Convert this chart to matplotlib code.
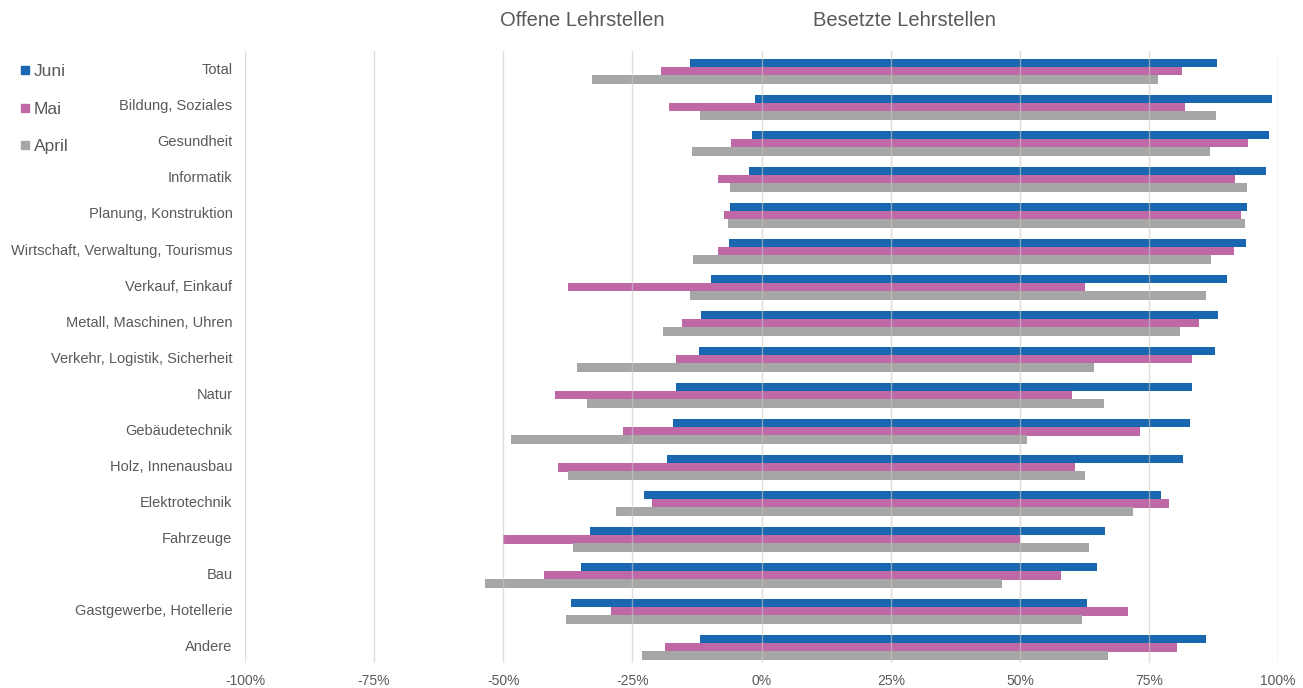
import matplotlib.pyplot as plt
from matplotlib.lines import Line2D
import numpy as np

categories = ["Total", "Bildung, Soziales", "Gesundheit", "Informatik",
              "Planung, Konstruktion", "Wirtschaft, Verwaltung, Tourismus",
              "Verkauf, Einkauf", "Metall, Maschinen, Uhren",
              "Verkehr, Logistik, Sicherheit", "Natur", "Gebäudetechnik",
              "Holz, Innenausbau", "Elektrotechnik", "Fahrzeuge", "Bau",
              "Gastgewerbe, Hotellerie", "Andere"]

# offene Lehrstellen (negativ)
juni_offen = [-13.8, -1.3, -1.9, -2.4, -6.2, -6.4, -9.8, -11.8, -12.2,
              -16.6, -17.1, -18.4, -22.8, -33.3, -34.9, -36.9, -11.9]
mai_offen = [-19.4, -17.9, -6.0, -8.4, -7.3, -8.5, -37.5, -15.4, -16.5,
             -40.0, -26.9, -39.5, -21.3, -50.0, -42.1, -29.2, -18.7]
april_offen = [-32.9, -12.0, -13.4, -6.2, -6.6, -13.2, -13.9, -19.0, -35.7,
               -33.8, -48.6, -37.5, -28.2, -36.6, -53.6, -37.8, -23.1]

# besetzte Lehrstellen (positiv)
juni_besetzt = [88.2, 98.7, 98.2, 97.6, 93.9, 93.7, 90.1, 88.3, 87.8,
                83.3, 83.0, 81.5, 77.3, 66.5, 65.0, 63.0, 86.1]
mai_besetzt = [81.4, 82.0, 94.1, 91.7, 92.7, 91.4, 62.5, 84.6, 83.3,
               60.0, 73.2, 60.6, 78.8, 50.1, 57.9, 70.9, 80.5]
april_besetzt = [76.8, 87.9, 86.7, 93.9, 93.5, 86.9, 86.1, 81.0, 64.3,
                 66.2, 51.4, 62.5, 71.8, 63.3, 46.5, 62.1, 67.0]

months = ["Juni", "Mai", "April"]
colors = ["#1967B0", "#BE69A6", "#A6A6A6"]
txt = "#595959"

plt.rcParams['font.family'] = ['Liberation Sans', 'DejaVu Sans']

fig = plt.figure(figsize=(13.03, 6.88), dpi=100)
ax = fig.add_axes([0.188, 0.036, 0.793, 0.89])

y = np.arange(len(categories))
h = 0.235
offsets = [-0.23, 0.0, 0.23]
series = [(juni_offen, juni_besetzt), (mai_offen, mai_besetzt), (april_offen, april_besetzt)]

for (neg, pos), off, col in zip(series, offsets, colors):
    ax.barh(y + off + 0.06, neg, height=h, color=col, linewidth=0, zorder=2)
    ax.barh(y + off + 0.06, pos, height=h, color=col, linewidth=0, zorder=2)

ax.set_xlim(-100, 100)
ax.set_ylim(len(categories) - 0.5, -0.5)
ax.set_xticks(np.arange(-100, 101, 25))
ax.set_xticklabels([f"{v}%" for v in range(-100, 101, 25)])
ax.set_yticks(y)
ax.set_yticklabels(categories)
ax.tick_params(axis="both", length=0, colors=txt, labelsize=10)
ax.tick_params(axis="y", labelsize=10.5, pad=9)
ax.tick_params(axis="x", pad=8)
ax.grid(axis="x", color="#C8C8C8", linewidth=1, alpha=0.6, zorder=3)
ax.set_axisbelow(False)
for s in ax.spines.values():
    s.set_visible(False)

fig.text(582 / 1303, 1 - 21 / 688, "Offene Lehrstellen", ha="center", va="center",
         fontsize=14.5, color=txt)
fig.text(904 / 1303, 1 - 21 / 688, "Besetzte Lehrstellen", ha="center", va="center",
         fontsize=14.5, color=txt)

handles = [Line2D([], [], marker="s", linestyle="", color=c, markersize=6) for c in colors]
leg = fig.legend(handles, months, loc="upper left", bbox_to_anchor=(0.0015, 0.93),
                 frameon=False, fontsize=12.5, labelspacing=1.3, handletextpad=0.15,
                 handlelength=0.8)
for t in leg.get_texts():
    t.set_color(txt)

fig.savefig("out.png", dpi=100)
